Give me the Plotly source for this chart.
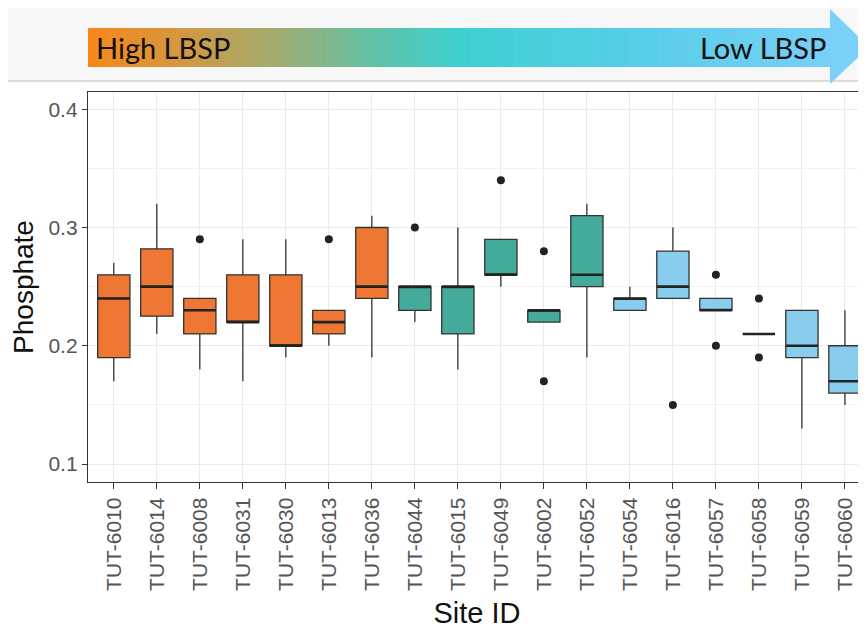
import plotly.graph_objects as go

# ---------------- data ----------------
sites = ["TUT-6010", "TUT-6014", "TUT-6008", "TUT-6031", "TUT-6030", "TUT-6013",
         "TUT-6036", "TUT-6044", "TUT-6015", "TUT-6049", "TUT-6002", "TUT-6052",
         "TUT-6054", "TUT-6016", "TUT-6057", "TUT-6058", "TUT-6059", "TUT-6060"]
lbsp_group = ["High", "High", "High", "High", "High", "High", "High",
              "Mid", "Mid", "Mid", "Mid", "Mid",
              "Low", "Low", "Low", "Low", "Low", "Low"]
lower_fence = [0.17, 0.21, 0.18, 0.17, 0.19, 0.20, 0.19, 0.22, 0.18, 0.25, 0.22, 0.19,
               0.23, 0.24, 0.23, 0.21, 0.13, 0.15]
q1_vals = [0.19, 0.225, 0.21, 0.22, 0.20, 0.21, 0.24, 0.23, 0.21, 0.26, 0.22, 0.25,
           0.23, 0.24, 0.23, 0.21, 0.19, 0.16]
median_vals = [0.24, 0.25, 0.23, 0.22, 0.20, 0.22, 0.25, 0.25, 0.25, 0.26, 0.23, 0.26,
               0.24, 0.25, 0.23, 0.21, 0.20, 0.17]
q3_vals = [0.26, 0.282, 0.24, 0.26, 0.26, 0.23, 0.30, 0.25, 0.25, 0.29, 0.23, 0.31,
           0.24, 0.28, 0.24, 0.21, 0.23, 0.20]
upper_fence = [0.27, 0.32, 0.24, 0.29, 0.29, 0.23, 0.31, 0.25, 0.30, 0.29, 0.23, 0.32,
               0.25, 0.30, 0.24, 0.21, 0.23, 0.23]
outlier_sites = ["TUT-6008", "TUT-6013", "TUT-6044", "TUT-6049", "TUT-6002", "TUT-6002",
                 "TUT-6016", "TUT-6057", "TUT-6057", "TUT-6058", "TUT-6058"]
outlier_vals = [0.29, 0.29, 0.30, 0.34, 0.28, 0.17, 0.15, 0.26, 0.20, 0.24, 0.19]
y_ticks = [0.1, 0.2, 0.3, 0.4]
banner_left = "High LBSP"
banner_right = "Low LBSP"

group_colors = {"High": "#EE7733", "Mid": "#44AA99", "Low": "#88CCEE"}

# ---------------- geometry (pixels) ----------------
OFF = 8                      # page body margin
FIG_W, FIG_H = 858, 626
M_L, M_R, M_T, M_B = 80, 0, 84, 152
PW = FIG_W - M_L - M_R
PH = FIG_H - M_T - M_B


def pxx(px):                 # page pixel -> paper x
    return (px - OFF - M_L) / PW


def pxy(py):                 # page pixel -> paper y
    return (FIG_H - M_B - (py - OFF)) / PH


fig = go.Figure()

for g in ["High", "Mid", "Low"]:
    idx = [i for i, v in enumerate(lbsp_group) if v == g]
    fig.add_trace(go.Box(
        x=[sites[i] for i in idx],
        q1=[q1_vals[i] for i in idx],
        median=[median_vals[i] for i in idx],
        q3=[q3_vals[i] for i in idx],
        lowerfence=[lower_fence[i] for i in idx],
        upperfence=[upper_fence[i] for i in idx],
        fillcolor=group_colors[g],
        line=dict(color="#333333", width=1.3),
        whiskerwidth=0,
        width=0.75,
        boxpoints=False,
        showlegend=False,
        hoverinfo="skip",
    ))

# thicker median lines (ggplot style)
fig.add_trace(go.Box(
    x=sites,
    q1=median_vals, median=median_vals, q3=median_vals,
    lowerfence=median_vals, upperfence=median_vals,
    fillcolor="rgba(0,0,0,0)",
    line=dict(color="#222222", width=2.6),
    whiskerwidth=0, width=0.75, boxpoints=False,
    showlegend=False, hoverinfo="skip",
))

fig.add_trace(go.Scatter(
    x=outlier_sites, y=outlier_vals, mode="markers",
    marker=dict(color="#222222", size=8),
    showlegend=False, hoverinfo="skip",
))

# ---------------- banner (arrow with gradient) ----------------
shapes = []
shapes.append(dict(type="rect", xref="paper", yref="paper",
                   x0=pxx(0), x1=pxx(FIG_W + OFF), y0=pxy(81), y1=pxy(0),
                   fillcolor="#F7F7F7", line=dict(width=0), layer="above"))
shapes.append(dict(type="line", xref="paper", yref="paper",
                   x0=pxx(0), x1=pxx(FIG_W + OFF), y0=pxy(81), y1=pxy(81),
                   line=dict(color="#BDBDBD", width=1.2), layer="above"))

stops = [(0.00, (246, 135, 24)), (0.12, (214, 150, 62)), (0.25, (162, 172, 110)),
         (0.38, (100, 192, 165)), (0.50, (60, 208, 208)), (0.75, (88, 206, 232)),
         (1.00, (120, 207, 248))]


def grad(t):
    for (a, ca), (b, cb) in zip(stops[:-1], stops[1:]):
        if a <= t <= b:
            f = (t - a) / (b - a)
            return "rgb(%d,%d,%d)" % tuple(round(ca[k] + (cb[k] - ca[k]) * f) for k in range(3))
    return "rgb(%d,%d,%d)" % stops[-1][1]


bx0, bx1, by0, by1 = 88, 831, 28, 67
N = 160
for i in range(N):
    xa = bx0 + (bx1 - bx0) * i / N
    xb = bx0 + (bx1 - bx0) * (i + 1) / N + 0.6
    shapes.append(dict(type="rect", xref="paper", yref="paper",
                       x0=pxx(xa), x1=pxx(xb), y0=pxy(by1), y1=pxy(by0),
                       fillcolor=grad((i + 0.5) / N), line=dict(width=0), layer="above"))
head = "M %f %f L %f %f L %f %f Z" % (pxx(830), pxy(9), pxx(869), pxy(47), pxx(830), pxy(84))
shapes.append(dict(type="path", xref="paper", yref="paper", path=head,
                   fillcolor="rgb(122,208,249)", line=dict(width=0), layer="above"))

annotations = [
    dict(text=banner_left, xref="paper", yref="paper", x=pxx(94), y=pxy(48),
         xanchor="left", yanchor="middle", showarrow=False,
         font=dict(family="Lato", size=29, color="#111111")),
    dict(text=banner_right, xref="paper", yref="paper", x=pxx(828), y=pxy(48),
         xanchor="right", yanchor="middle", showarrow=False,
         font=dict(family="Lato", size=29, color="#111111")),
]

fig.update_layout(
    width=FIG_W, height=FIG_H,
    margin=dict(l=M_L, r=M_R, t=M_T, b=M_B, autoexpand=False),
    paper_bgcolor="white", plot_bgcolor="white",
    boxmode="overlay",
    shapes=shapes, annotations=annotations,
    font=dict(family="Liberation Sans, Arial, sans-serif"),
    xaxis=dict(
        type="category", categoryorder="array", categoryarray=sites,
        range=[-0.6, 17.49], tickangle=-90,
        showgrid=True, gridcolor="#EBEBEB", gridwidth=1,
        showline=True, linecolor="#333333", linewidth=1.3, mirror=True,
        ticks="outside", ticklen=6, tickcolor="#333333", tickwidth=1,
        tickfont=dict(size=21, color="#555555"),
        title=dict(text="Site ID", font=dict(size=29, color="#111111"), standoff=12),
        zeroline=False,
    ),
    yaxis=dict(
        range=[0.0848, 0.4146], tickvals=y_ticks, ticktext=["0.1", "0.2", "0.3", "0.4"],
        showgrid=True, gridcolor="#EBEBEB", gridwidth=1,
        minor=dict(dtick=0.05, tick0=0.1, showgrid=True, gridcolor="#F2F2F2", gridwidth=1, ticks=""),
        showline=True, linecolor="#333333", linewidth=1.3, mirror=False,
        ticks="outside", ticklen=5, tickcolor="#333333", tickwidth=1,
        tickfont=dict(size=21, color="#555555"),
        title=dict(text="Phosphate", font=dict(size=28, color="#111111"), standoff=6),
        zeroline=False,
    ),
)

fig.write_html("out.html")
